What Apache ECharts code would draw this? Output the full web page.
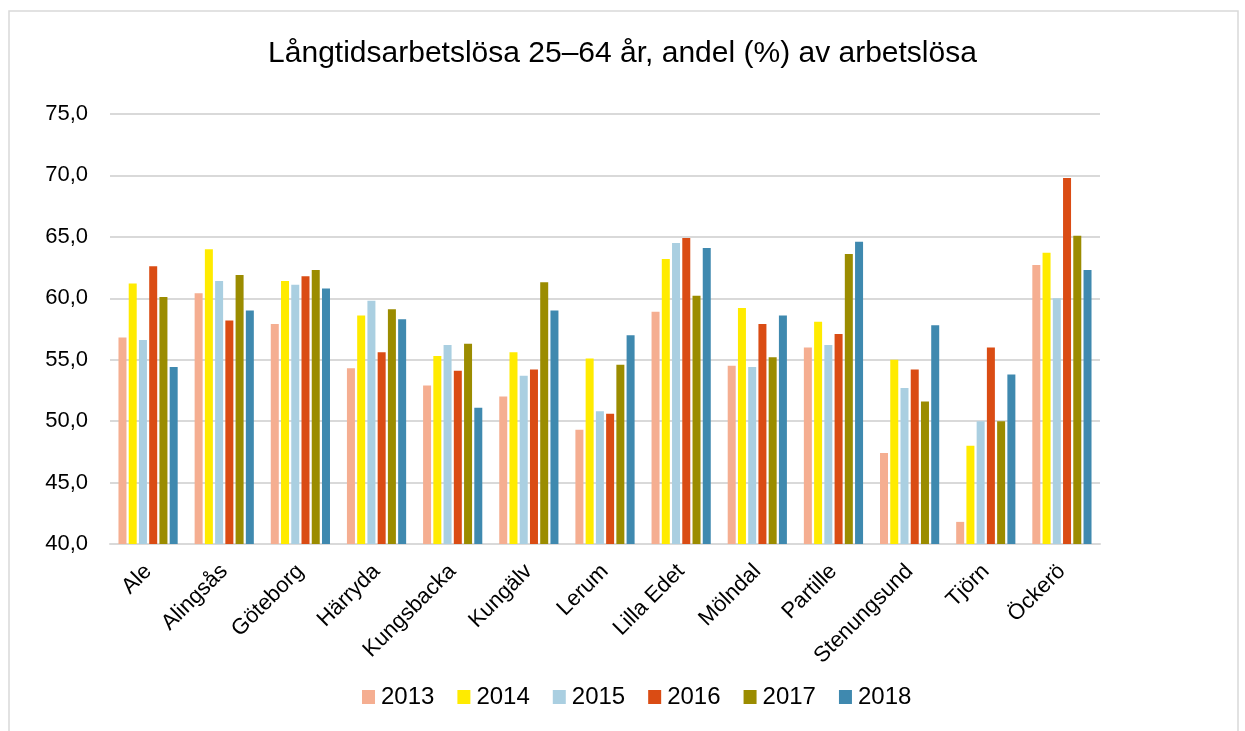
<!DOCTYPE html>
<html lang="sv">
<head>
    <meta charset="UTF-8" />
    <title>Långtidsarbetslösa</title>
    <script src="https://cdn.jsdelivr.net/npm/echarts@6/dist/echarts.min.js"></script>
    <style type="text/css">
        html, body { margin: 0; padding: 0; background: #fff; }
        #chart { width: 1245px; height: 731px; }
    </style>
</head>
<body>
    <div id="chart"></div>
    <script type="text/javascript">
        // kommuner
        var kommuner = ['Ale', 'Alingsås', 'Göteborg', 'Härryda', 'Kungsbacka', 'Kungälv', 'Lerum',
            'Lilla Edet', 'Mölndal', 'Partille', 'Stenungsund', 'Tjörn', 'Öckerö'];
        var years = ['2013', '2014', '2015', '2016', '2017', '2018'];

        var v2013 = [56.8, 60.4, 57.9, 54.3, 52.9, 52.0, 49.3, 58.9, 54.5, 56.0, 47.4, 41.8, 62.7];
        var v2014 = [61.2, 64.0, 61.4, 58.6, 55.3, 55.6, 55.1, 63.2, 59.2, 58.1, 55.0, 48.0, 63.7];
        var v2015 = [56.6, 61.4, 61.1, 59.8, 56.2, 53.7, 50.8, 64.5, 54.4, 56.2, 52.7, 50.0, 60.0];
        var v2016 = [62.6, 58.2, 61.8, 55.6, 54.1, 54.2, 50.6, 64.9, 57.9, 57.1, 54.2, 56.0, 69.8];
        var v2017 = [60.1, 61.9, 62.3, 59.1, 56.3, 61.3, 54.6, 60.2, 55.2, 63.6, 51.6, 50.0, 65.1];
        var v2018 = [54.4, 59.0, 60.8, 58.3, 51.1, 59.0, 57.0, 64.1, 58.6, 64.6, 57.8, 53.8, 62.3];

        var colors = ['#F5AE91', '#FFEB00', '#AACFE1', '#DA4C14', '#9B8C00', '#3F89AF'];
        var allValues = [v2013, v2014, v2015, v2016, v2017, v2018];

        var chart = echarts.init(document.getElementById('chart'));

        var series = [];
        years.forEach(function (y, i) {
            series.push({
                name: y,
                type: 'bar',
                barWidth: 8,
                barGap: '28%',
                itemStyle: { color: colors[i] },
                data: allValues[i]
            });
        });

        var option = {
            backgroundColor: '#fff',
            animation: false,
            textStyle: { fontFamily: 'Liberation Sans' },
            title: {
                text: 'Långtidsarbetslösa 25–64 år, andel (%) av arbetslösa',
                left: 'center',
                top: 34,
                textStyle: { fontSize: 30, fontWeight: 'normal', color: '#000', fontFamily: 'Liberation Sans' }
            },
            legend: {
                data: years,
                bottom: 17,
                left: 357,
                itemWidth: 13,
                itemHeight: 14,
                itemGap: 23,
                icon: 'rect',
                textStyle: { fontSize: 24, color: '#000', padding: [0, 0, 0, 1] }
            },
            grid: { left: 110, right: 145, top: 114, bottom: 187 },
            xAxis: {
                type: 'category',
                data: kommuner,
                axisTick: { show: false },
                axisLine: { lineStyle: { color: '#d9d9d9', width: 2 } },
                axisLabel: { rotate: 45, fontSize: 22, color: '#000', margin: 24, interval: 0 }
            },
            yAxis: {
                type: 'value',
                min: 40,
                max: 75,
                interval: 5,
                axisLine: { show: false },
                axisTick: { show: false },
                splitLine: { lineStyle: { color: '#d9d9d9', width: 2 } },
                axisLabel: {
                    fontSize: 22, color: '#000', margin: 22,
                    formatter: function (v) { return v.toFixed(1).replace('.', ','); }
                }
            },
            graphic: [{
                type: 'rect',
                shape: { x: 9, y: 11, width: 1229, height: 740 },
                style: { fill: 'none', stroke: '#d9d9d9', lineWidth: 1.5 },
                silent: true
            }],
            series: series
        };
        chart.setOption(option, true);
    </script>
</body>
</html>
